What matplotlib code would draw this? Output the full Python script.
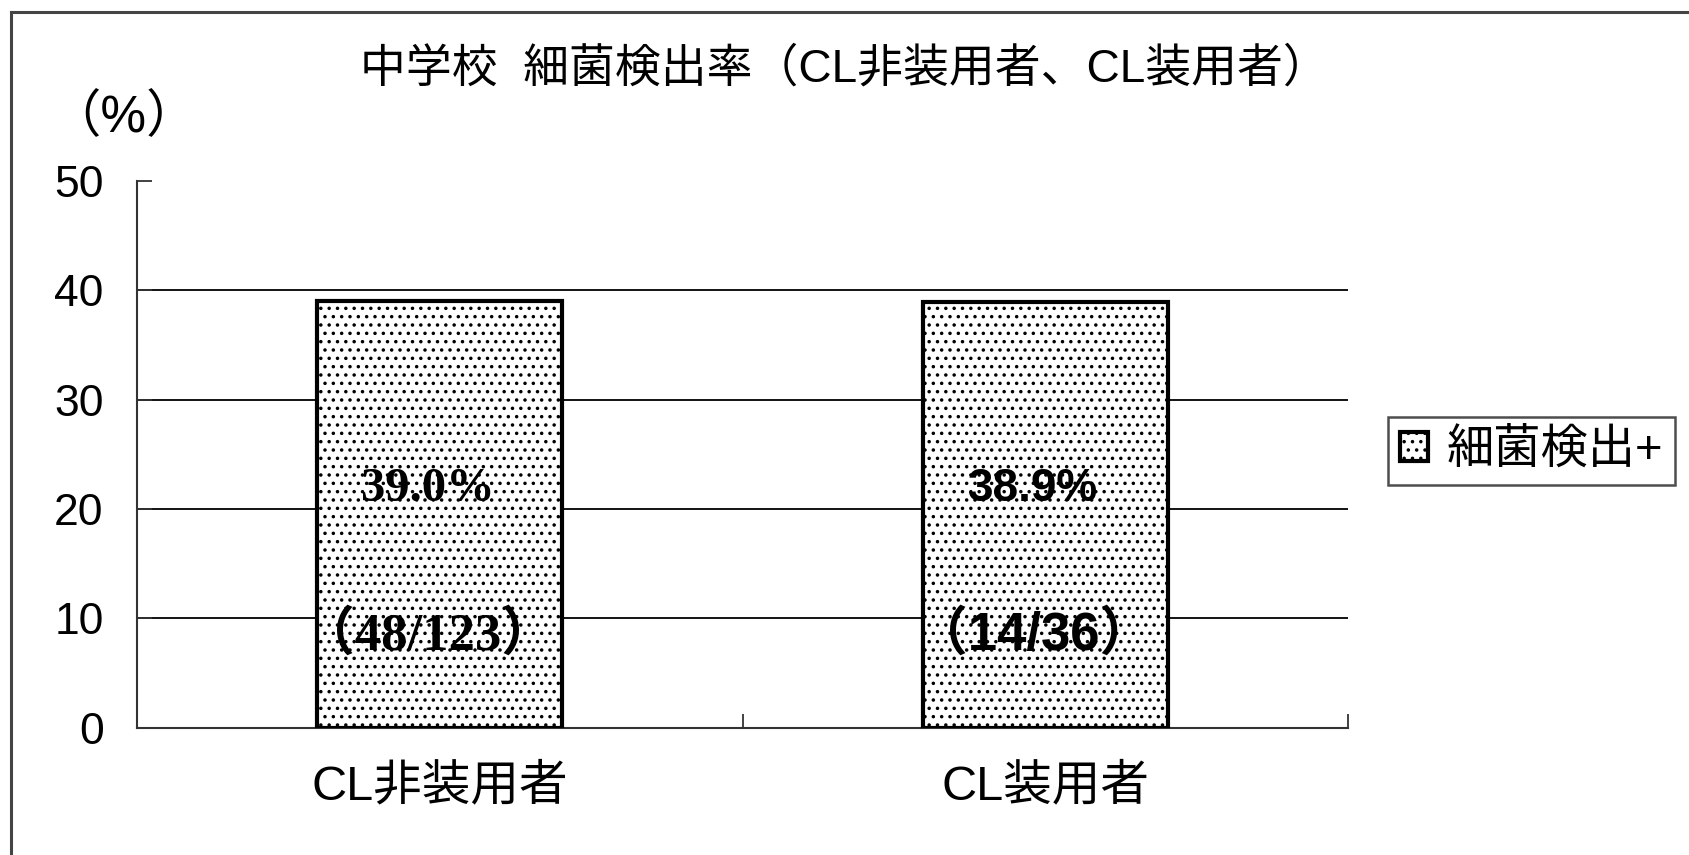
"""
中学校 細菌検出率 (CL非装用者 / CL装用者), hatched bar chart.
"""

import matplotlib

matplotlib.use("Agg")
import matplotlib.pyplot as plt
from matplotlib.lines import Line2D

categories = ["CL非装用者", "CL装用者"]
detect_rate = [39.0, 38.9]
pct_labels = ["39.0%", "38.9%"]
count_labels = ["（48/123）", "（14/36）"]
series_name = "細菌検出+"
title = "中学校  細菌検出率（CL非装用者、CL装用者）"
y_ticks = [0, 10, 20, 30, 40, 50]

SANS = ["Liberation Sans", "Noto Sans CJK JP", "DejaVu Sans"]
SERIF = ["Liberation Serif", "Noto Sans CJK JP", "DejaVu Sans"]


def main() -> None:
    plt.rcParams["font.family"] = SANS
    plt.rcParams["hatch.linewidth"] = 1.3

    fig = plt.figure(figsize=(16.9, 8.55), dpi=100)
    ax = fig.add_axes([0.0811, 0.1491, 0.7166, 0.6392])

    x = list(range(len(categories)))
    bars = ax.bar(
        x,
        detect_rate,
        width=0.405,
        color="white",
        edgecolor="black",
        linewidth=3.0,
        hatch="..",
        label=series_name,
        zorder=3,
    )

    ax.set_xlim(-0.5, len(categories) - 0.5)
    ax.set_ylim(0, 50)
    ax.set_yticks(y_ticks)
    ax.tick_params(axis="y", direction="in", length=11, width=1.3,
                   labelsize=32, pad=24, color="#333333")
    for y in y_ticks[1:-1]:
        ax.axhline(y, color="black", linewidth=1.3, zorder=1)

    ax.set_xticks(x)
    ax.set_xticklabels(categories, fontsize=35)
    ax.tick_params(axis="x", length=0, pad=26)
    ax.set_xticks([i - 0.5 for i in range(len(categories) + 1)], minor=True)
    ax.tick_params(axis="x", which="minor", direction="in", length=10,
                   width=1.3, color="#333333")

    for side in ("top", "right"):
        ax.spines[side].set_visible(False)
    for side in ("left", "bottom"):
        ax.spines[side].set_linewidth(1.5)
        ax.spines[side].set_color("#333333")

    fonts = [SERIF, SANS]
    pct_sizes = [35, 33]
    for i, bar in enumerate(bars):
        cx = bar.get_x() + bar.get_width() / 2 - 0.02
        ax.text(cx, 21.8, pct_labels[i], ha="center", va="center",
                fontsize=pct_sizes[i], fontweight="bold", family=fonts[i],
                zorder=4)
        ax.text(cx, 8.4, count_labels[i], ha="center", va="center",
                fontsize=38, fontweight="bold", family=fonts[i], zorder=4)

    fig.text(0.4994, 1 - 70 / 855, title, ha="center", va="center",
             fontsize=33)
    fig.text(124 / 1690, 1 - 119 / 855, "（%）", ha="center", va="center",
             fontsize=37)

    leg = fig.legend(
        handles=[bars[0]],
        labels=[series_name],
        loc="center left",
        bbox_to_anchor=(1388 / 1690, 1 - 451 / 855),
        bbox_transform=fig.transFigure,
        borderaxespad=0,
        fancybox=False,
        edgecolor="#222222",
        fontsize=34,
        handlelength=0.6,
        handleheight=0.6,
        handletextpad=0.4,
        borderpad=0.25,
    )
    leg.get_frame().set_linewidth(1.8)

    # scanned page border: left and top edges only
    fx, fy = 11 / 1690, 1 - 12 / 855
    fig.add_artist(Line2D([fx, fx], [0, fy], transform=fig.transFigure,
                          color="#444444", linewidth=2.2))
    fig.add_artist(Line2D([fx, 1], [fy, fy], transform=fig.transFigure,
                          color="#444444", linewidth=2.2))

    fig.savefig("out.png", dpi=100)
    plt.close(fig)


if __name__ == "__main__":
    main()
